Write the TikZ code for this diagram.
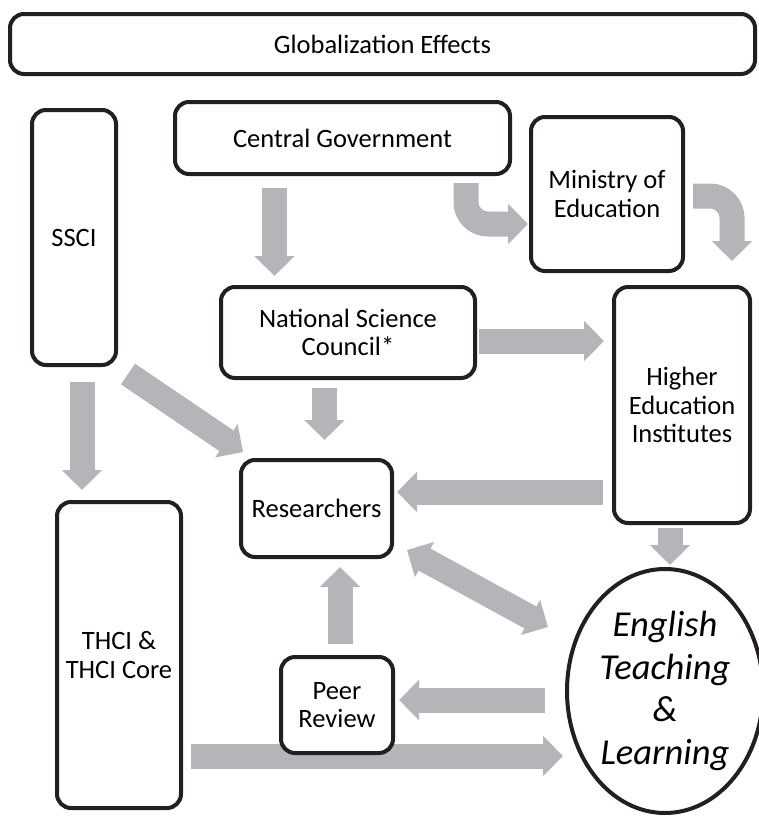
\documentclass[tikz,border=0pt]{standalone}
\usepackage{fontspec}
\setmainfont{Carlito}
\usetikzlibrary{arrows.meta}
\usetikzlibrary{shapes.geometric}
\definecolor{flowgray}{RGB}{180,181,184}
\definecolor{edgeblack}{RGB}{35,31,32}
\pgfdeclarelayer{background}
\pgfsetlayers{background,main}

\begin{document}
\begin{tikzpicture}[x=1pt,y=-1pt,
  box/.style={draw=edgeblack,line width=4pt,rounded corners=14pt,fill=white,
    align=center,inner sep=0pt,outer sep=0pt,font=\fontsize{26.5}{28.5}\selectfont},
  flow/.style={draw=flowgray,line width=25pt,-{Triangle[width=39pt,length=20pt]}},
  flowboth/.style={flow,{Triangle[width=39pt,length=20pt]}-{Triangle[width=39pt,length=20pt]}}]
\useasboundingbox (0,0) rectangle (759,817);
% boxes
\node[box, minimum width=745pt, minimum height=60pt] (glob) at (382.5,44) {Globalization Effects};
\node[box, minimum width=84pt, minimum height=255pt] (ssci) at (74,237.5) {SSCI};
\node[box, minimum width=335pt, minimum height=72pt] (cg) at (342.5,138) {Central Government};
\node[box, minimum width=152pt, minimum height=154pt] (moe) at (607,194) {Ministry of\\Education};
\node[box, minimum width=254pt, minimum height=91pt] (nsc) at (348,332.5) {National Science\\Council*};
\node[box, minimum width=136pt, minimum height=236pt] (hei) at (682,405) {Higher\\Education\\Institutes};
\node[box, minimum width=151pt, minimum height=97pt] (res) at (316.5,508.5) {Researchers};
\node[box, minimum width=124pt, minimum height=306pt] (thci) at (119,655) {THCI \&\\THCI Core};
\node[box, minimum width=112pt, minimum height=96pt] (peer) at (337,705) {Peer\\Review};
\node[draw=edgeblack, line width=4pt, ellipse, fill=white, inner sep=0pt, outer sep=0pt,
  minimum width=196pt, minimum height=244pt, align=center,
  font=\fontsize{36.5}{42.5}\selectfont\itshape] (etl) at (665,691) {English\\Teaching\\\&\\Learning};
% grey block arrows
\begin{pgfonlayer}{background}
\draw[flow] ([xshift=-68pt,yshift=-14pt]cg.south) -- ([xshift=-73.5pt,yshift=11pt]nsc.north);
\draw[flow, rounded corners=22pt] ([xshift=123.5pt,yshift=-9pt]cg.south) |- ([xshift=-3pt,yshift=-30pt]moe.west);
\draw[flow, rounded corners=22pt] ([xshift=10pt,yshift=-2pt]moe.east) -| ([xshift=50pt,yshift=26pt]hei.north);
\draw[flow] ([xshift=4pt,yshift=-8.5pt]nsc.east) -- ([xshift=-10pt,yshift=64pt]hei.west);
\draw[flow] ([xshift=-23.5pt,yshift=-10pt]nsc.south) -- ([xshift=8pt,yshift=20pt]res.north);
\draw[flow] ([xshift=12pt,yshift=-9pt]ssci.south east) -- ([xshift=2pt,yshift=8pt]res.north west);
\draw[flow] ([xshift=8pt,yshift=-17pt]ssci.south) -- ([xshift=-37pt,yshift=12pt]thci.north);
\draw[flow] ([xshift=-11pt,yshift=-87pt]hei.west) -- ([xshift=5pt,yshift=16.5pt]res.east);
\draw[flow] ([xshift=-12pt,yshift=-5pt]hei.south) -- ([xshift=5pt,yshift=4pt]etl.north);
\draw[flowboth] ([xshift=15pt,yshift=7pt]res.south east) -- ([xshift=-19pt,yshift=64pt]etl.west);
\draw[flow] ([xshift=3pt,yshift=13pt]peer.north) -- ([xshift=23.5pt,yshift=-10pt]res.south);
\draw[flow] ([xshift=-22pt,yshift=-9pt]etl.west) -- ([xshift=6pt,yshift=5pt]peer.east);
\draw[flow] ([xshift=10pt,yshift=-101pt]thci.east) -- ([xshift=-4pt,yshift=-65pt]etl.west);
\end{pgfonlayer}
\end{tikzpicture}
\end{document}
